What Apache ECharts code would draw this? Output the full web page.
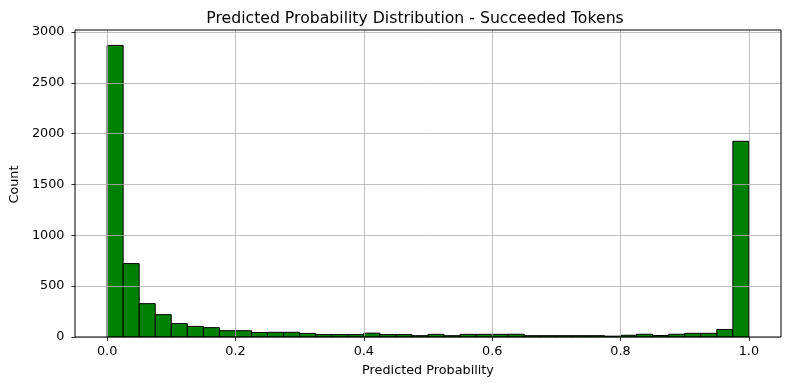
<!DOCTYPE html>
<html>
<head>
<meta charset="utf-8">
<script src="https://cdn.jsdelivr.net/npm/echarts@6/dist/echarts.min.js"></script>
<style>html,body{margin:0;padding:0;background:#fff;}#c{width:790px;height:390px;}</style>
</head>
<body>
<div id="c"></div>
<script>
const titleText = 'Predicted Probability Distribution - Succeeded Tokens';
const xLabel = 'Predicted Probability';
const yLabel = 'Count';
const binCount = 40;
const binRange = [0, 1];
const counts = [2868, 722, 328, 220, 132, 104, 92, 62, 62, 44,
                46, 46, 35, 24, 24, 24, 38, 24, 24, 13,
                26, 13, 26, 26, 26, 27, 13, 13, 13, 13,
                13, 8, 17, 27, 15, 27, 36, 36, 74, 1925];
const xTicks = [0, 0.2, 0.4, 0.6, 0.8, 1.0];
const yTicks = [0, 500, 1000, 1500, 2000, 2500, 3000];

const binW = (binRange[1] - binRange[0]) / binCount;
const histData = counts.map((c, i) => [binRange[0] + i * binW, binRange[0] + (i + 1) * binW, c]);

const FONT = 'DejaVu Sans';
const TICKFS = 12.8;
const chart = echarts.init(document.getElementById('c'), null, {renderer: 'canvas'});
const frame = {left: 75, right: 9, top: 30, bottom: 53};
const x0px = 107.1, x1px = 748.9;
const yTopVal = 3000 * (390 - frame.bottom - frame.top) / (390 - frame.bottom - 32);

chart.setOption({
  animation: false,
  backgroundColor: '#fff',
  title: {
    text: titleText, left: 410, top: 6, textAlign: 'center',
    textStyle: {fontFamily: FONT, fontSize: 15.7, fontWeight: 'normal', color: '#000'}
  },
  grid: [
    {left: frame.left, right: frame.right, top: 32, bottom: frame.bottom, containLabel: false},
    {left: x0px, right: 790 - x1px, top: frame.top, bottom: frame.bottom, containLabel: false},
    {left: frame.left, right: frame.right, top: frame.top, bottom: frame.bottom, show: true,
     borderColor: '#000', borderWidth: 1, backgroundColor: 'transparent', z: 5}
  ],
  xAxis: [
    {gridIndex: 0, type: 'value', min: 0, max: 1, show: false},
    {gridIndex: 1, type: 'value', min: xTicks[0], max: xTicks[xTicks.length - 1], interval: 0.2, z: 4,
     name: xLabel, nameLocation: 'middle', nameGap: 27,
     nameTextStyle: {fontFamily: FONT, fontSize: TICKFS, color: '#000'},
     axisLine: {show: false},
     axisTick: {show: true, length: 4, inside: false, lineStyle: {color: '#000', width: 0.8}},
     axisLabel: {show: true, margin: 8, fontFamily: FONT, fontSize: TICKFS, color: '#000',
                 formatter: v => v.toFixed(1)},
     splitLine: {show: true, lineStyle: {color: '#b0b0b0', width: 0.8}}},
    {gridIndex: 2, type: 'value', min: 0, max: 1, show: false}
  ],
  yAxis: [
    {gridIndex: 0, type: 'value', min: yTicks[0], max: yTicks[yTicks.length - 1], interval: 500, z: 4,
     name: yLabel, nameLocation: 'middle', nameGap: 52,
     nameTextStyle: {fontFamily: FONT, fontSize: TICKFS, color: '#000'},
     axisLine: {show: false},
     axisTick: {show: true, length: 4, lineStyle: {color: '#000', width: 0.8}},
     axisLabel: {show: true, margin: 11, fontFamily: FONT, fontSize: TICKFS, color: '#000',
                 formatter: v => String(v)},
     splitLine: {show: true, lineStyle: {color: '#b0b0b0', width: 0.8}}},
    {gridIndex: 1, type: 'value', min: 0, max: yTopVal, show: false},
    {gridIndex: 2, type: 'value', min: 0, max: 1, show: false}
  ],
  series: [{
    type: 'custom', xAxisIndex: 1, yAxisIndex: 1, z: 1,
    data: histData,
    renderItem: function (params, api) {
      const p0 = api.coord([api.value(0), api.value(2)]);
      const p1 = api.coord([api.value(1), 0]);
      return {
        type: 'rect',
        shape: {x: p0[0], y: p0[1], width: p1[0] - p0[0], height: p1[1] - p0[1]},
        style: {fill: '#008000', stroke: '#000', lineWidth: 1}
      };
    }
  }]
});
</script>
</body>
</html>
